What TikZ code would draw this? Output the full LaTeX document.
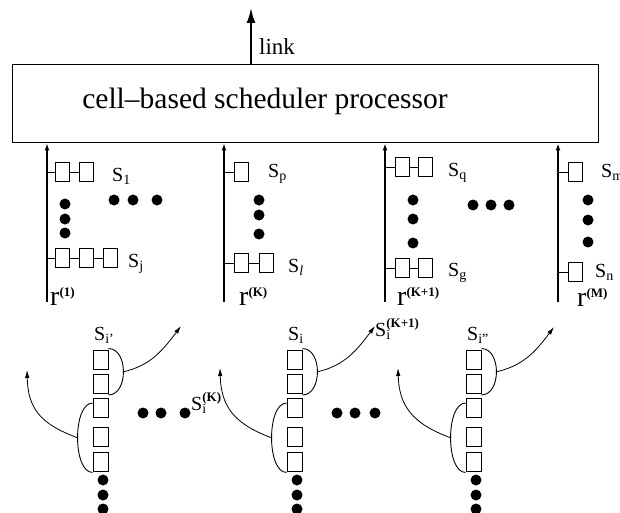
\documentclass[tikz,border=0pt]{standalone}
\usepackage{fontspec}
\setmainfont{Liberation Serif}
\usetikzlibrary{arrows.meta}
\newcommand{\rlab}[1]{{\fontsize{28}{30}\selectfont r}\raisebox{9pt}{\fontsize{13}{14}\selectfont\bfseries #1}}
\newcommand{\Slab}[1]{S\textsubscript{#1}}
\newcommand{\Slabsup}[2]{S\rlap{\textsubscript{#1}}\raisebox{9pt}{\fontsize{13}{14}\selectfont\bfseries #2}}
\tikzset{
  qbox/.style={draw, line width=0.9pt, minimum width=14pt, minimum height=19pt, inner sep=0pt},
  qdot/.style={circle, fill, inner sep=0pt, minimum size=11pt},
  rline/.style={line width=1.3pt, -{Latex[length=7pt,width=5pt]}},
  flow/.style={line width=0.8pt, -{Latex[length=8pt,width=4.5pt]}},
  conn/.style={line width=0.9pt},
  slab/.style={font=\fontsize{20}{22}\selectfont, inner sep=0pt, anchor=base west},
  rtxt/.style={inner sep=0pt, anchor=base west},
}
\begin{document}
\begin{tikzpicture}[x=1pt,y=-1pt]
\useasboundingbox (0,0) rectangle (620,513);
% processor
\node[draw, line width=1pt, minimum width=586pt, minimum height=78pt, inner sep=0pt] (proc) at (305,104) {};
\node[font=\fontsize{29.5}{31}\selectfont] (ptxt) at (265,101) {cell–based scheduler processor};
\coordinate (lk) at (251,8);
\draw[line width=2pt, -{Latex[length=15pt,width=9pt]}] (proc.north -| lk) -- (lk);
\node[font=\fontsize{23}{25}\selectfont, inner sep=0pt, anchor=base west] (link) at (259,55) {link};

% input lines
\coordinate (r1) at (47,302);
\coordinate (rK) at (224,302);
\coordinate (rK1) at (385,302);
\coordinate (rM) at (558,302);
\draw[rline] (r1) -- (r1 |- proc.south);
\draw[rline] (rK) -- (rK |- proc.south);
\draw[rline] (rK1) -- (rK1 |- proc.south);
\draw[rline] (rM) -- (rM |- proc.south);
\node[rtxt] (lr1) at (50,305) {\rlab{(1)}};
\node[rtxt] (lrK) at (239,305) {\rlab{(K)}};
\node[rtxt] (lrK1) at (397,305) {\rlab{(K+1)}};
\node[rtxt] (lrM) at (577,306) {\rlab{(M)}};

% r1 queues
\node[qbox] (a11) at (62,172) {};
\node[qbox] (a12) at (86,172) {};
\draw[conn] (r1 |- a11) -- (a11.west) (a11.east) -- (a12.west);
\node[slab] (s1) at (112,181) {\Slab{1}};
\node[qbox] (a21) at (62,258) {};
\node[qbox] (a22) at (86,258) {};
\node[qbox] (a23) at (110,258) {};
\draw[conn] (r1 |- a21) -- (a21.west) (a21.east) -- (a22.west) (a22.east) -- (a23.west);
\node[slab] (sj) at (128,267) {\Slab{j}};
\node[qdot] (d1) at (65,204) {};
\node[qdot] (d2) at (65,219) {};
\node[qdot] (d3) at (65,233) {};
\node[qdot] (h1) at (114,200) {};
\node[qdot] (h2) at (133,200) {};
\node[qdot] (h3) at (157,200) {};

% rK queues
\node[qbox] (b11) at (241.5,172) {};
\draw[conn] (rK |- b11) -- (b11.west);
\node[slab] (sp) at (268,177) {\Slab{p}};
\node[qbox] (b21) at (241.5,263) {};
\node[qbox] (b22) at (266.5,263) {};
\draw[conn] (rK |- b21) -- (b21.west) (b21.east) -- (b22.west);
\node[slab] (sl) at (288,272) {\Slab{\itshape l}};
\node[qdot] (e1) at (259,200) {};
\node[qdot] (e2) at (259,215) {};
\node[qdot] (e3) at (259,234) {};

% rK1 queues
\node[qbox] (c11) at (402.5,167) {};
\node[qbox] (c12) at (425.5,167) {};
\draw[conn] (rK1 |- c11) -- (c11.west) (c11.east) -- (c12.west);
\node[slab] (sq) at (448,176) {\Slab{q}};
\node[qbox] (c21) at (402.5,268) {};
\node[qbox] (c22) at (425.5,268) {};
\draw[conn] (rK1 |- c21) -- (c21.west) (c21.east) -- (c22.west);
\node[slab] (sg) at (448,276) {\Slab{g}};
\node[qdot] (f1) at (413,200) {};
\node[qdot] (f2) at (413,219) {};
\node[qdot] (f3) at (413,243) {};
\node[qdot] (k1) at (473,205) {};
\node[qdot] (k2) at (491,205) {};
\node[qdot] (k3) at (509,205) {};

% rM queues
\node[qbox] (m11) at (575.5,172) {};
\draw[conn] (rM |- m11) -- (m11.west);
\node[slab] (sm) at (601,177) {\Slab{m}};
\node[qbox] (m21) at (575.5,272) {};
\draw[conn] (rM |- m21) -- (m21.west);
\node[slab] (sn) at (595,277) {\Slab{n}};
\node[qdot] (g1) at (588,200) {};
\node[qdot] (g2) at (588,220) {};
\node[qdot] (g3) at (588,242) {};

% bottom columns
\foreach \n/\cx in {p/100.5, q/294.5, r/473.5} {
  \node[qbox, minimum width=15pt] (\n1) at (\cx,359.5) {};
  \node[qbox, minimum width=15pt] (\n2) at (\cx,384) {};
  \node[qbox, minimum width=15pt] (\n3) at (\cx,408) {};
  \node[qbox, minimum width=15pt] (\n4) at (\cx,437) {};
  \node[qbox, minimum width=15pt] (\n5) at (\cx,461.5) {};
  \node[qdot] (\n d1) at ([xshift=2.5pt]\cx,480) {};
  \node[qdot] (\n d2) at ([xshift=2.5pt]\cx,495) {};
  \node[qdot] (\n d3) at ([xshift=2.5pt]\cx,509) {};
  \draw[conn] ([yshift=1pt]\n1.north east) .. controls +(20,0) and +(20,0) .. ([yshift=-1pt]\n2.south east) coordinate[pos=0.5] (\n R);
  \draw[conn] ([yshift=-5pt]\n3.north west) .. controls +(-20,0) and +(-20,0) .. ([yshift=-1pt]\n5.south west) coordinate[pos=0.5] (\n L);
}
\coordinate (pRe) at (181,326);
\coordinate (qRe) at (375,326);
\coordinate (rRe) at (554,327);
\coordinate (pLe) at (27,370);
\coordinate (qLe) at (220,368);
\coordinate (rLe) at (398,368);
\draw[flow] (pR) .. controls +(27,-6) and +(-18,24) .. (pRe);
\draw[flow] (qR) .. controls +(27,-6) and +(-18,24) .. (qRe);
\draw[flow] (rR) .. controls +(27,-6) and +(-18,24) .. (rRe);
\draw[flow] (pL) .. controls +(-38,-14) and +(1,38) .. (pLe);
\draw[flow] (qL) .. controls +(-38,-14) and +(1,38) .. (qLe);
\draw[flow] (rL) .. controls +(-38,-14) and +(1,38) .. (rLe);

\node[slab] (ti1) at (94,340) {\Slab{i'}};
\node[slab] (ti2) at (288,340) {\Slab{i}};
\node[slab] (ti3) at (467,340) {\Slab{i''}};
\node[slab] (tk) at (191,410) {\Slabsup{i}{(K)}};
\node[slab] (tk1) at (375,336) {\Slabsup{i}{(K+1)}};

\node[qdot] (x1) at (143,413) {};
\node[qdot] (x2) at (161,413) {};
\node[qdot] (x3) at (185,413) {};
\node[qdot] (y1) at (337,413) {};
\node[qdot] (y2) at (355,413) {};
\node[qdot] (y3) at (375,413) {};
\end{tikzpicture}
\end{document}
